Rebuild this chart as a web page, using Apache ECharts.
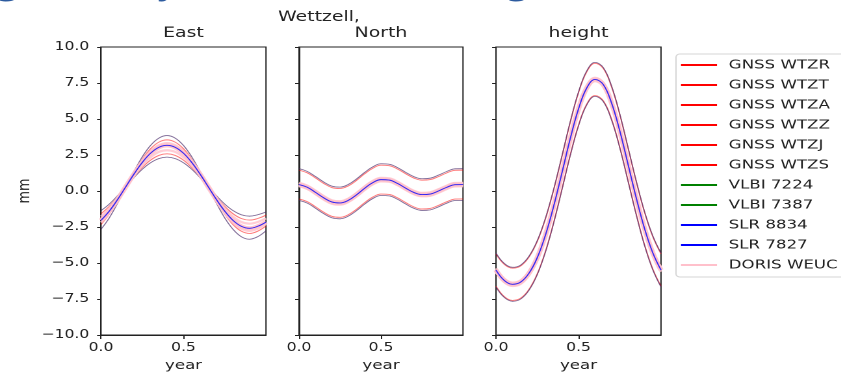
<!DOCTYPE html>
<html>
<head>
<meta charset="utf-8">
<script src="https://cdn.jsdelivr.net/npm/echarts@6/dist/echarts.min.js"></script>
<style>
html,body{margin:0;padding:0;background:#fff;overflow:hidden}
#wrap{width:841px;height:377px;overflow:hidden;position:relative}
#c{width:647px;height:377px;transform:scaleX(1.3);transform-origin:0 0;position:absolute;left:0;top:0}
</style>
</head>
<body>
<div id="wrap"><div id="c"></div></div>
<script>
// ---- data ----
const years = [0,0.05,0.1,0.15,0.2,0.25,0.3,0.35,0.4,0.45,0.5,0.55,0.6,0.65,0.7,0.75,0.8,0.85,0.9,0.95,1.0];

const stationNames = ['GNSS WTZR','GNSS WTZT','GNSS WTZA','GNSS WTZZ','GNSS WTZJ','GNSS WTZS','VLBI 7224','VLBI 7387','SLR 8834','SLR 7827','DORIS WEUC'];
const stationTechs = ['gnssA','gnssB','gnssA','gnssA','gnssB','gnssB','vlbi','vlbi','slr','slr','doris'];

const panelTitles = ['East','North','height'];
const yTicks = [-10,-7.5,-5,-2.5,0,2.5,5,7.5,10];
const xTicks = [0,0.5];

// East (mm)
const eastHi      = [-2.66,-1.87,-0.86,0.25,1.36,2.37,3.16,3.67,3.85,3.67,3.16,2.37,1.36,0.25,-0.86,-1.87,-2.66,-3.17,-3.35,-3.17,-2.76];
const eastGnssHi  = [-2.33,-1.61,-0.70,0.30,1.30,2.21,2.93,3.39,3.55,3.39,2.93,2.21,1.30,0.30,-0.70,-1.61,-2.33,-2.79,-2.95,-2.79,-2.43];
const eastDorisHi = [-2.19,-1.51,-0.66,0.28,1.22,2.07,2.75,3.18,3.33,3.18,2.75,2.07,1.22,0.28,-0.66,-1.51,-2.19,-2.62,-2.77,-2.62,-2.29];
const eastNom     = [-2.04,-1.40,-0.60,0.29,1.18,1.98,2.62,3.03,3.17,3.03,2.62,1.98,1.18,0.29,-0.60,-1.40,-2.04,-2.45,-2.59,-2.45,-2.16];
const eastDorisLo = [-1.78,-1.22,-0.51,0.28,1.07,1.78,2.34,2.71,2.83,2.71,2.34,1.78,1.07,0.28,-0.51,-1.22,-1.78,-2.15,-2.27,-2.15,-1.90];
const eastGnssLo  = [-1.58,-1.07,-0.43,0.28,0.99,1.63,2.14,2.47,2.58,2.47,2.14,1.63,0.99,0.28,-0.43,-1.07,-1.58,-1.91,-2.02,-1.91,-1.68];
const eastLo      = [-1.36,-0.91,-0.33,0.30,0.93,1.51,1.96,2.25,2.35,2.25,1.96,1.51,0.93,0.30,-0.33,-0.91,-1.36,-1.65,-1.75,-1.65,-1.46];

// North (mm)
const northHi      = [1.55,1.36,1.01,0.63,0.34,0.27,0.45,0.83,1.29,1.68,1.89,1.86,1.63,1.30,1.00,0.85,0.89,1.10,1.35,1.54,1.55];
const northGnssHi  = [1.45,1.26,0.91,0.53,0.24,0.17,0.35,0.73,1.19,1.58,1.79,1.76,1.53,1.20,0.90,0.75,0.79,1.00,1.25,1.44,1.45];
const northDorisHi = [0.57,0.38,0.03,-0.35,-0.64,-0.71,-0.53,-0.15,0.31,0.70,0.91,0.88,0.65,0.32,0.02,-0.13,-0.09,0.12,0.37,0.56,0.57];
const northNom     = [0.45,0.26,-0.09,-0.47,-0.76,-0.83,-0.65,-0.27,0.19,0.58,0.79,0.76,0.53,0.20,-0.10,-0.25,-0.21,0.00,0.25,0.44,0.45];
const northDorisLo = [0.33,0.14,-0.21,-0.59,-0.88,-0.95,-0.77,-0.39,0.07,0.46,0.67,0.64,0.41,0.08,-0.22,-0.37,-0.33,-0.12,0.13,0.32,0.33];
const northGnssLo  = [-0.55,-0.74,-1.09,-1.47,-1.76,-1.83,-1.65,-1.27,-0.81,-0.42,-0.21,-0.24,-0.47,-0.80,-1.10,-1.25,-1.21,-1.00,-0.75,-0.56,-0.55];
const northLo      = [-0.65,-0.84,-1.19,-1.57,-1.86,-1.93,-1.75,-1.37,-0.91,-0.52,-0.31,-0.34,-0.57,-0.90,-1.20,-1.35,-1.31,-1.10,-0.85,-0.66,-0.65];

// height (mm)
const heightHi      = [-4.31,-5.03,-5.30,-5.14,-4.53,-3.45,-1.87,0.15,2.46,4.82,6.88,8.34,8.93,8.57,7.30,5.36,3.04,0.70,-1.42,-3.11,-4.31];
const heightGnssHi  = [-4.37,-5.09,-5.36,-5.20,-4.59,-3.51,-1.93,0.09,2.40,4.76,6.82,8.28,8.87,8.51,7.24,5.30,2.98,0.64,-1.48,-3.17,-4.37];
const heightDorisHi = [-5.37,-6.09,-6.36,-6.20,-5.59,-4.51,-2.93,-0.91,1.40,3.76,5.82,7.28,7.87,7.51,6.24,4.30,1.98,-0.36,-2.48,-4.17,-5.37];
const heightNom     = [-5.49,-6.21,-6.48,-6.32,-5.71,-4.63,-3.05,-1.03,1.28,3.64,5.70,7.16,7.75,7.39,6.12,4.18,1.86,-0.48,-2.60,-4.29,-5.49];
const heightDorisLo = [-5.61,-6.33,-6.60,-6.44,-5.83,-4.75,-3.17,-1.15,1.16,3.52,5.58,7.04,7.63,7.27,6.00,4.06,1.74,-0.60,-2.72,-4.41,-5.61];
const heightGnssLo  = [-6.61,-7.33,-7.60,-7.44,-6.83,-5.75,-4.17,-2.15,0.16,2.52,4.58,6.04,6.63,6.27,5.00,3.06,0.74,-1.60,-3.72,-5.41,-6.61];
const heightLo      = [-6.67,-7.39,-7.66,-7.50,-6.89,-5.81,-4.23,-2.21,0.10,2.46,4.52,5.98,6.57,6.21,4.94,3.00,0.68,-1.66,-3.78,-5.47,-6.67];

// ---- styling / layout ----
const SX = 1.3; // horizontal stretch of the reference picture
const X = v => v / SX;

const panels = [
  {hi:eastHi, gHi:eastGnssHi, dHi:eastDorisHi, nom:eastNom, dLo:eastDorisLo, gLo:eastGnssLo, lo:eastLo},
  {hi:northHi, gHi:northGnssHi, dHi:northDorisHi, nom:northNom, dLo:northDorisLo, gLo:northGnssLo, lo:northLo},
  {hi:heightHi, gHi:heightGnssHi, dHi:heightDorisHi, nom:heightNom, dLo:heightDorisLo, gLo:heightGnssLo, lo:heightLo}
];
const gridLefts = [101, 299, 496];
const gridWidths = [165, 164, 165];
const titleCenters = [183.5, 381, 578.5];

const techColors = {gnssA:'#ff0000', gnssB:'#ff0000', vlbi:'#008000', slr:'#0000ff', doris:'#ffc0cb'};
// [curve key, line width, opacity, z]
const techCurves = {
  gnssA: [['hi',0.8,0.13,2],['nom',0.8,0.1,2],['lo',0.8,0.13,2]],
  gnssB: [['gHi',0.9,0.22,2],['nom',0.8,0.1,2],['gLo',0.9,0.22,2]],
  vlbi:  [['hi',0.8,0.16,2],['nom',0.8,0.1,2],['lo',0.8,0.16,2]],
  slr:   [['hi',0.8,0.16,2],['nom',0.9,0.55,4],['lo',0.8,0.16,2]],
  doris: [['dHi',2.2,0.8,3],['nom',4,0.9,3],['dLo',2.2,0.8,3]]
};

const FONT = 'DejaVu Sans';
const TXT = '#222';
const fmt = v => (v < 0 ? '\u2212' : '') + Math.abs(v).toFixed(1);

const grids = [], xAxes = [], yAxes = [], series = [];
panels.forEach((p, i) => {
  grids.push({left: X(gridLefts[i]), top: 47, width: X(gridWidths[i]), height: 289,
              show: true, borderColor: TXT, borderWidth: 1, backgroundColor: 'transparent'});
  xAxes.push({type: 'value', gridIndex: i, min: 0, max: 1, interval: 0.5,
    axisLine: {show: true, onZero: false, lineStyle: {color: TXT, width: 1}},
    axisTick: {show: true, length: 4, lineStyle: {color: TXT}},
    splitLine: {show: false},
    axisLabel: {formatter: v => xTicks.includes(v) ? v.toFixed(1) : '', showMaxLabel: false, showMinLabel: true,
                fontSize: 12, fontFamily: FONT, color: TXT, margin: 7},
    name: 'year', nameLocation: 'middle', nameGap: 24,
    nameTextStyle: {fontSize: 12.8, fontFamily: FONT, color: TXT}});
  yAxes.push({type: 'value', gridIndex: i, min: -10, max: 10, interval: 2.5,
    axisLine: {show: true, onZero: false, lineStyle: {color: TXT, width: 1}},
    axisTick: {show: true, length: 3, lineStyle: {color: TXT}},
    splitLine: {show: false},
    axisLabel: {show: i === 0, formatter: v => yTicks.includes(v) ? fmt(v) : '', fontSize: 12, fontFamily: FONT, color: TXT, margin: 9},
    name: i === 0 ? 'mm' : '', nameLocation: 'middle', nameGap: 52, nameRotate: 90,
    nameTextStyle: {fontSize: 12.8, fontFamily: FONT, color: TXT}});
  stationNames.forEach((name, s) => {
    const tech = stationTechs[s];
    techCurves[tech].forEach(([key, w, op, z]) => {
      const arr = p[key];
      series.push({type: 'line', name: name, xAxisIndex: i, yAxisIndex: i, z: z,
        data: years.map((t, k) => [t, arr[k]]),
        showSymbol: false, symbol: 'none', smooth: 0.4, silent: true,
        color: techColors[tech],
        lineStyle: {color: techColors[tech], width: w, opacity: op},
        emphasis: {disabled: true}});
    });
  });
});

const HEAD = {verticalAlign: 'middle', font: '600 28px "Open Sans"', fill: '#2d5b9f'};
const graphics = [
  {type: 'rect', shape: {x: X(676), y: 54, width: 300, height: 223, r: 3},
   style: {fill: 'rgba(255,255,255,0.8)', stroke: '#d6d6d6', lineWidth: 1}, z: 0},
  {type: 'text', x: X(319), y: 17, style: {text: 'Wettzell,', align: 'center', verticalAlign: 'middle',
    font: '14.5px "DejaVu Sans"', fill: TXT}},
  // cropped slide headline (only descenders visible)
  {type: 'text', x: X(-3), y: -13, style: Object.assign({text: 'g'}, HEAD)},
  {type: 'text', x: X(115), y: -13, style: Object.assign({text: ','}, HEAD)},
  {type: 'text', x: X(158), y: -13, style: Object.assign({text: 'y),'}, HEAD)},
  {type: 'text', x: X(507), y: -13, style: Object.assign({text: 'g'}, HEAD)}
];
panelTitles.forEach((t, i) => graphics.push({type: 'text', x: X(titleCenters[i]), y: 33,
  style: {text: t, align: 'center', verticalAlign: 'middle', font: '14.5px "DejaVu Sans"', fill: TXT}}));

const chart = echarts.init(document.getElementById('c'), null, {renderer: 'canvas', devicePixelRatio: 2});
chart.setOption({
  animation: false,
  backgroundColor: '#fff',
  grid: grids, xAxis: xAxes, yAxis: yAxes, series: series,
  legend: {
    orient: 'vertical', left: X(681), top: 58, itemWidth: X(36), itemHeight: 14, itemGap: 6,
    selectedMode: false, padding: 0,
    icon: 'path://M0,0 L36,0 L36,2.6 L0,2.6 Z',
    textStyle: {fontSize: 12.8, fontFamily: FONT, color: TXT, lineHeight: 14, padding: [0, 0, 0, 4]},
    data: stationNames.map((n, s) => ({name: n, itemStyle: {color: techColors[stationTechs[s]], opacity: 1}}))
  },
  graphic: graphics
});
</script>
</body>
</html>
